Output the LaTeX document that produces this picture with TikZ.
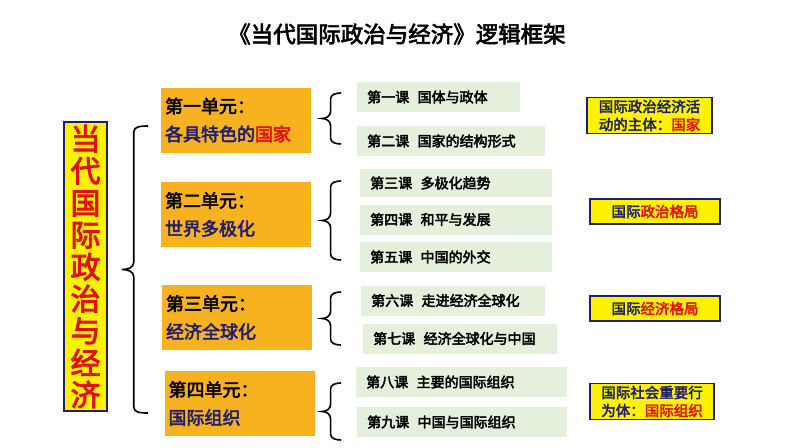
\documentclass[tikz,border=0pt]{standalone}
\usepackage{fontspec}
\setmainfont{Noto Sans CJK SC}[BoldFont={Noto Sans CJK SC},BoldFeatures={FakeBold=3}]
\definecolor{dblue}{HTML}{1F1F6E}
\definecolor{ora}{HTML}{F9B21F}
\definecolor{lgr}{HTML}{E4EFDC}
\definecolor{rd}{HTML}{E01010}
\tikzset{
 unit/.style={fill=ora,minimum width=150pt,minimum height=65pt,align=left,text width=142pt,font=\bfseries\fontsize{18}{28}\selectfont,inner sep=0pt},
 lesson/.style={fill=lgr,minimum height=30pt,anchor=west,align=left,font=\bfseries\fontsize{14}{15}\selectfont,inner xsep=10pt,text=black},
 side/.style={fill=yellow,draw=dblue,line width=1.3pt,align=center,text=dblue,font=\bfseries\fontsize{14.5}{18}\selectfont,inner xsep=4pt,inner ysep=2pt},
 br/.style={line width=1.6pt},
}
\newcommand{\mybrace}[4]{% x, top, bottom, depth
 \draw[br] (#1,#2) to[out=180,in=90] (#1-#4*0.55,#2+6) -- (#1-#4*0.55,{(#2+#3)/2-7}) to[out=-90,in=0] (#1-#4,{(#2+#3)/2}) to[out=0,in=90] (#1-#4*0.55,{(#2+#3)/2+7}) -- (#1-#4*0.55,#3-6) to[out=-90,in=180] (#1,#3);}
\begin{document}
\begin{tikzpicture}[x=1pt,y=-1pt]
\useasboundingbox (0,0) rectangle (794,447);
\node[font=\bfseries\fontsize{22.5}{24}\selectfont] (title) at (397,34) {《当代国际政治与经济》逻辑框架};
\node[fill=yellow,draw=dblue,line width=1.3pt,minimum width=43pt,minimum height=289pt,text=rd,align=center,font=\bfseries\fontsize{30}{32}\selectfont,inner sep=0pt] (main) at (85.5,266.5) {当\\代\\国\\际\\政\\治\\与\\经\\济};
\mybrace{148}{126}{413}{26}
\node[unit] (u1) at (236,120) {第一单元：\\\textcolor{dblue}{各具特色的}\textcolor{rd}{国家}};
\node[unit] (u2) at (236,214.5) {第二单元：\\\textcolor{dblue}{世界多极化}};
\node[unit] (u3) at (237,317.5) {第三单元：\\\textcolor{dblue}{经济全球化}};
\node[unit] (u4) at (239.5,403.5) {第四单元：\\\textcolor{dblue}{国际组织}};
\mybrace{341}{93}{144}{19}
\mybrace{341}{181}{260}{19}
\mybrace{341}{292}{345}{19}
\mybrace{341}{383}{440}{19}
\node[lesson,text width=143pt] (l1) at (357,97) {第一课\hspace{0.6em}国体与政体};
\node[lesson,text width=168pt] (l2) at (357,141) {第二课\hspace{0.6em}国家的结构形式};
\node[lesson,text width=172pt,minimum height=28pt] (l3) at (360,183) {第三课\hspace{0.6em}多极化趋势};
\node[lesson,text width=172pt] (l4) at (360,219.5) {第四课\hspace{0.6em}和平与发展};
\node[lesson,text width=172pt] (l5) at (360,257) {第五课\hspace{0.6em}中国的外交};
\node[lesson,text width=164pt] (l6) at (361,300.5) {第六课\hspace{0.6em}走进经济全球化};
\node[lesson,text width=174pt] (l7) at (363,338.5) {第七课\hspace{0.6em}经济全球化与中国};
\node[lesson,text width=191pt] (l8) at (356,382) {第八课\hspace{0.6em}主要的国际组织};
\node[lesson,text width=190pt] (l9) at (357,422) {第九课\hspace{0.6em}中国与国际组织};
\node[side,minimum width=125pt] (r1) at (649.5,115.5) {国际政治经济活\\动的主体：\textcolor{rd}{国家}};
\node[side,minimum width=130pt,minimum height=25pt] (r2) at (655,211.5) {国际\textcolor{rd}{政治格局}};
\node[side,minimum width=130pt,minimum height=25pt] (r3) at (655,308.5) {国际\textcolor{rd}{经济格局}};
\node[side,minimum width=124pt] (r4) at (652,401.5) {国际社会重要行\\为体：\textcolor{rd}{国际组织}};
\end{tikzpicture}
\end{document}
